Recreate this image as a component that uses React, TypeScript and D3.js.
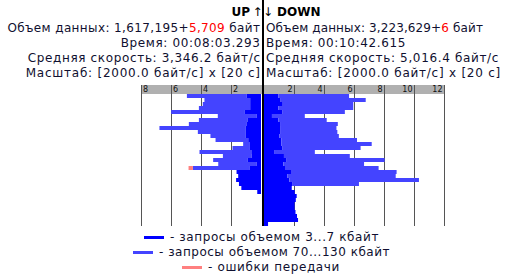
import React, { useEffect, useRef } from "react";
import * as d3 from "d3";

const W = 513;
const H = 279;

// UP panel (left), units of 2000 byte/s, one row per 20 s
const upSmall = [0.96, 0.72, 0.72, 0.72, 1.1, 0.28, 0.88, 0.94, 1.03, 1.03, 1.03, 0.85, 0.77, 0.77, 0.6, 0.62, 0.88, 0.28, 0.77, 1.63, 1.52, 1.66, 1.47, 1.31, 0.25];
const upLarge = [3.98, 3.05, 3.16, 3.42, 4.89, 2.6, 3.26, 3.87, 5.74, 3.18, 2.34, 2.18, 0.42, 1.13, 3.5, 1.92, 2.31, 2.57, 3.77, 0, 0, 0, 0, 0, 0];
const upErrors = [0, 0, 0, 0, 0, 0, 0, 0, 0, 0, 0, 0, 0, 0, 0, 0, 0, 0, 0.29, 0, 0, 0, 0, 0, 0];

// DOWN panel (right)
const downSmall = [0.95, 1.11, 1.25, 0.96, 1.24, 0.53, 0.96, 1.07, 1.11, 1.11, 1.02, 1.16, 1.16, 1.24, 0.67, 1.33, 1.51, 1.29, 1.4, 1.8, 1.56, 1.69, 1.91, 1.85, 2.05, 2.18, 2.12, 2.04, 2.04, 2.1, 2.2, 2.27, 0.27];
const downLarge = [4.72, 5.67, 4.7, 4.99, 4.15, 2.19, 3.22, 3.85, 3.72, 3.78, 3.97, 5.04, 6.02, 5.2, 2.72, 4.39, 6.53, 5.38, 6.24, 7.04, 7.22, 8.64, 4.42, 0, 0, 0, 0, 0, 0, 0, 0, 0, 0];
const downErrors = [0, 0, 0, 0, 0, 0, 0, 0, 0, 0, 0, 0, 0, 0, 0, 0, 0, 0, 0, 0, 0, 0, 0, 0, 0, 0, 0, 0, 0, 0, 0, 0, 0];

const upTicks = [2, 4, 6, 8];
const downTicks = [2, 4, 6, 8, 10, 12];

const upTitle = "UP";
const downTitle = "DOWN";

type Seg = [string, boolean];
const upLines: Seg[][] = [
  [["Объем данных: 1,617,195+", false], ["5,709", true], [" байт", false]],
  [["Время: 00:08:03.293", false]],
  [["Средняя скорость: 3,346.2 байт/с", false]],
  [["Масштаб: [2000.0 байт/с] x [20 с]", false]],
];
const downLines: Seg[][] = [
  [["Объем данных: 3,223,629+", false], ["6", true], [" байт", false]],
  [["Время: 00:10:42.615", false]],
  [["Средняя скорость: 5,016.4 байт/с", false]],
  [["Масштаб: [2000.0 байт/с] x [20 с]", false]],
];

const legendLabels = ["- запросы объемом 3...7 кбайт", "- запросы объемом 70...130 кбайт", "- ошибки передачи"];
const legendColors = ["#0000ff", "#4444ff", "#ff8080"];

// rendered text widths (layout)
const upWidths = [253, 140, 233, 235];
const downWidths = [217, 140, 233, 235];
const legendWidths = [209, 231, 132];

export default function App() {
  const ref = useRef<SVGSVGElement>(null);

  useEffect(() => {
    document.body.style.margin = "0";
    const svg = d3.select(ref.current);
    svg.selectAll("*").remove();
    const font = "'DejaVu Sans', Verdana, sans-serif";
    const textColor = "#101030";
    const darkBlue = legendColors[0];
    const lightBlue = legendColors[1];
    const errColor = legendColors[2];

    const fit = (t: d3.Selection<SVGTextElement, unknown, null, undefined>, target: number) => {
      const node = t.node() as SVGTextElement;
      const w = node.getComputedTextLength();
      const n = (node.textContent || "").length;
      const ls = (target - w) / n;
      t.attr("letter-spacing", ls.toFixed(3));
      return ls;
    };

    const rows = d3.range(downSmall.length);
    const y = d3.scaleBand<number>().domain(rows).range([94, 226]);
    const xUp = d3.scaleLinear().domain([0, 8]).range([261, 141]);
    const xDown = d3.scaleLinear().domain([0, 12]).range([264, 444]);
    const top = 85;
    const bottom = 226;

    // header strips
    svg.append("rect").attr("x", xUp(8)).attr("y", top).attr("width", xUp(0) - xUp(8) + 1).attr("height", 9).attr("fill", "#b0b0b0");
    svg.append("rect").attr("x", xDown(0)).attr("y", top).attr("width", xDown(12) - xDown(0) + 1).attr("height", 9).attr("fill", "#b0b0b0");

    // gridlines
    const g = svg.append("g").attr("stroke", "#555555").attr("stroke-width", 1);
    upTicks.forEach((t) => {
      const x = Math.floor(xUp(t)) + 0.5;
      g.append("line").attr("x1", x).attr("x2", x).attr("y1", top).attr("y2", bottom);
    });
    downTicks.forEach((t) => {
      const x = Math.floor(xDown(t)) + 0.5;
      g.append("line").attr("x1", x).attr("x2", x).attr("y1", top).attr("y2", bottom);
    });

    // UP bars
    const bw = y.bandwidth();
    upSmall.forEach((s, i) => {
      const l = upLarge[i];
      const e = upErrors[i];
      const yy = y(i)!;
      if (l > 0) svg.append("rect").attr("x", xUp(s + l)).attr("y", yy).attr("width", xUp(s) - xUp(s + l)).attr("height", bw).attr("fill", lightBlue);
      if (e > 0) svg.append("rect").attr("x", xUp(s + l + e)).attr("y", yy).attr("width", xUp(s + l) - xUp(s + l + e)).attr("height", bw).attr("fill", errColor);
      svg.append("rect").attr("x", xUp(s)).attr("y", yy).attr("width", xUp(0) - xUp(s)).attr("height", bw).attr("fill", darkBlue);
    });

    // DOWN bars
    downSmall.forEach((s, i) => {
      const l = downLarge[i];
      const e = downErrors[i];
      const yy = y(i)!;
      svg.append("rect").attr("x", xDown(0)).attr("y", yy).attr("width", xDown(s) - xDown(0)).attr("height", bw).attr("fill", darkBlue);
      if (l > 0) svg.append("rect").attr("x", xDown(s)).attr("y", yy).attr("width", xDown(s + l) - xDown(s)).attr("height", bw).attr("fill", lightBlue);
      if (e > 0) svg.append("rect").attr("x", xDown(s + l)).attr("y", yy).attr("width", xDown(s + l + e) - xDown(s + l)).attr("height", bw).attr("fill", errColor);
    });

    // tick labels
    upTicks.forEach((t) => {
      svg.append("text").attr("x", Math.floor(xUp(t)) + 2).attr("y", 92).attr("font-family", font).attr("font-size", 8).attr("fill", "#111").text(String(t));
    });
    downTicks.forEach((t) => {
      svg.append("text").attr("x", Math.floor(xDown(t)) - 1.5).attr("y", 92).attr("text-anchor", "end").attr("font-family", font).attr("font-size", 8).attr("fill", "#111").text(String(t));
    });

    // center line
    svg.append("rect").attr("x", 262).attr("y", 0).attr("width", 2).attr("height", bottom).attr("fill", "#000");

    // titles
    svg.append("text").attr("x", 250).attr("y", 16).attr("text-anchor", "end").attr("font-family", font).attr("font-size", 12).attr("font-weight", "bold").attr("fill", "#000").text(upTitle);
    svg.append("text").attr("x", 257.5).attr("y", 16).attr("text-anchor", "middle").attr("font-family", font).attr("font-size", 12).attr("fill", "#000").text("↑");
    svg.append("text").attr("x", 268).attr("y", 16).attr("text-anchor", "middle").attr("font-family", font).attr("font-size", 12).attr("fill", "#000").text("↓");
    svg.append("text").attr("x", 277).attr("y", 16).attr("font-family", font).attr("font-size", 12).attr("font-weight", "bold").attr("fill", "#000").text(downTitle);

    const drawLines = (lines: Seg[][], widths: number[], x: number, anchor: string) => {
      lines.forEach((segs, i) => {
        const t = svg.append("text").attr("x", x).attr("y", 32 + i * 15).attr("text-anchor", anchor).attr("font-family", font).attr("font-size", 12).attr("fill", textColor);
        segs.forEach(([s, red]) => {
          t.append("tspan").attr("fill", red ? "#ff0000" : textColor).text(s);
        });
        const ls = fit(t as any, widths[i]);
        if (anchor === "end") t.attr("x", x + ls);
      });
    };
    drawLines(upLines, upWidths, 260, "end");
    drawLines(downLines, downWidths, 266, "start");

    // legend
    legendLabels.forEach((lab, i) => {
      const base = 241 + i * 15;
      const t = svg.append("text").attr("y", base).attr("font-family", font).attr("font-size", 12).attr("fill", textColor).text(lab);
      const ls = fit(t as any, legendWidths[i]);
      const tw = legendWidths[i] - ls;
      const sw = 20;
      const gap = 6;
      const start = 261 - (sw + gap + tw) / 2;
      svg.append("rect").attr("x", Math.round(start)).attr("y", base - 5).attr("width", sw).attr("height", 3).attr("fill", legendColors[i]);
      t.attr("x", Math.round(start) + sw + gap);
    });
  }, []);

  return <svg ref={ref} width={W} height={H} style={{ position: "absolute", left: 0, top: 0, background: "#fff" }} />;
}
